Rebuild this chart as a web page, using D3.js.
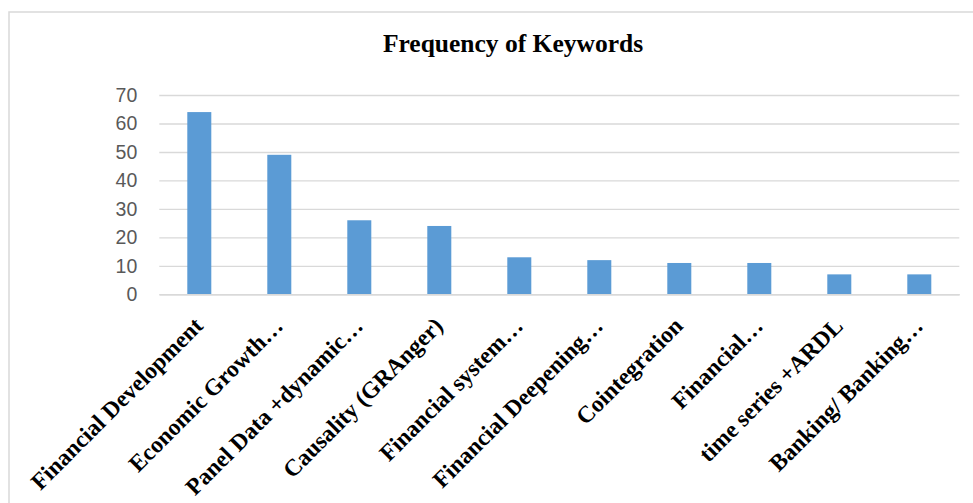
<!DOCTYPE html>
<html>
<head>
<meta charset="utf-8">
<script src="https://cdn.jsdelivr.net/npm/d3@7"></script>
<style>
  html, body { margin: 0; padding: 0; background: #fff; }
  svg { display: block; }
</style>
</head>
<body>
<svg id="chart" width="973" height="503"></svg>
<script>
// Keyword labels (as shown on the axis) and their counts
const categories = [
  "Financial Development",
  "Economic Growth\u2026",
  "Panel Data +dynamic\u2026",
  "Causality (GRAnger)",
  "Financial system\u2026",
  "Financial Deepening\u2026",
  "Cointegration",
  "Financial\u2026",
  "time series +ARDL",
  "Banking/ Banking\u2026"
];
const frequencies = [64, 49, 26, 24, 13, 12, 11, 11, 7, 7];
const yTicks = [0, 10, 20, 30, 40, 50, 60, 70];
const chartTitle = "Frequency of Keywords";

const W = 973, H = 503;
const margin = { left: 159.3, right: 13.7, top: 95, bottom: 208.7 };

const svg = d3.select("#chart");

// Outer chart frame
svg.append("rect")
  .attr("x", 9).attr("y", 12)
  .attr("width", W + 20).attr("height", H + 20)
  .attr("fill", "#fff")
  .attr("stroke", "#d9d9d9")
  .attr("stroke-width", 1.5);

const x = d3.scaleBand()
  .domain(categories)
  .range([margin.left, W - margin.right])
  .paddingInner(0.7)
  .paddingOuter(0.35);

const y = d3.scaleLinear()
  .domain([0, 70])
  .range([H - margin.bottom, margin.top]);

// Horizontal gridlines + value labels
const yAxis = d3.axisLeft(y)
  .tickValues(yTicks)
  .tickSize(-(W - margin.left - margin.right))
  .tickPadding(22)
  .tickFormat(d3.format("d"));

const gy = svg.append("g")
  .attr("transform", `translate(${margin.left},0)`)
  .call(yAxis);
gy.select(".domain").remove();
gy.selectAll(".tick line")
  .attr("stroke", "#d9d9d9")
  .attr("stroke-width", 1.4);
gy.selectAll(".tick text")
  .attr("fill", "#595959")
  .style("font-family", "'Liberation Sans', Arial, sans-serif")
  .style("font-size", "19.5px");

// Bars
svg.append("g")
  .selectAll("rect")
  .data(frequencies)
  .join("rect")
  .attr("x", (d, i) => x(categories[i]))
  .attr("width", x.bandwidth())
  .attr("y", d => y(d))
  .attr("height", d => y(0) - y(d))
  .attr("fill", "#5b9bd5");

// Category axis with slanted labels
const xAxis = d3.axisBottom(x).tickSize(0).tickPadding(0);
const gx = svg.append("g")
  .attr("transform", `translate(0,${y(0)})`)
  .call(xAxis);
gx.select(".domain").attr("stroke", "#d9d9d9").attr("stroke-width", 1.4);
gx.selectAll(".tick text")
  .attr("text-anchor", "end")
  .attr("dy", 0)
  .attr("transform", "translate(5,33) rotate(-45)")
  .attr("fill", "#000")
  .style("font-family", "'Liberation Serif', 'Times New Roman', serif")
  .style("font-weight", "bold")
  .style("font-size", "23.5px");

// Title
svg.append("text")
  .attr("x", 513)
  .attr("y", 52)
  .attr("text-anchor", "middle")
  .style("font-family", "'Liberation Serif', 'Times New Roman', serif")
  .style("font-weight", "bold")
  .style("font-size", "25.5px")
  .attr("fill", "#000")
  .text(chartTitle);
</script>
</body>
</html>
